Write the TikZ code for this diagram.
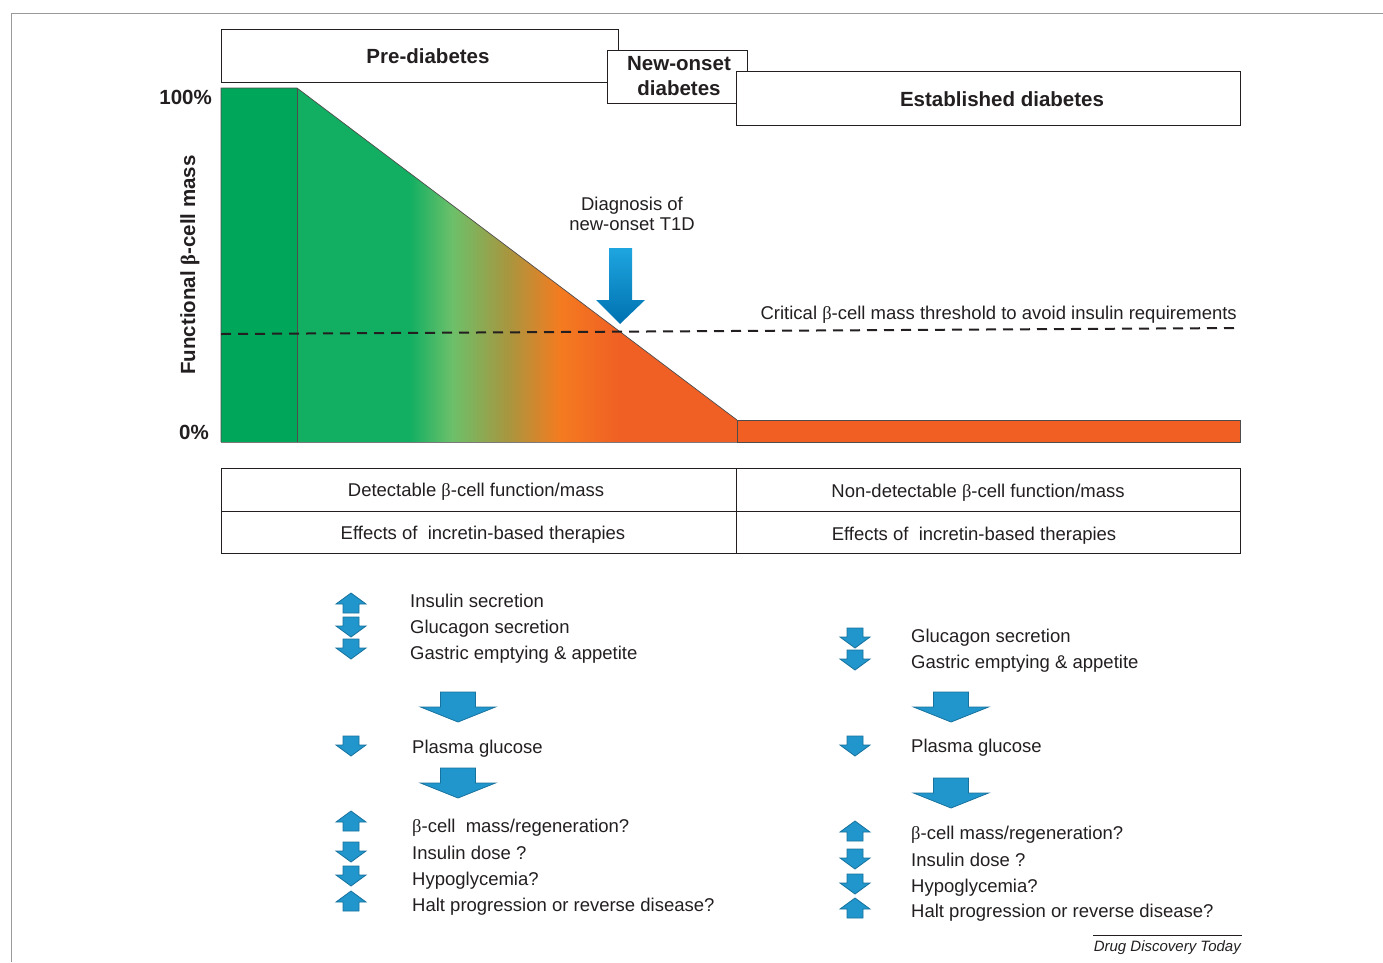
\documentclass[tikz,border=0pt]{standalone}
\usepackage{fontspec}
\setmainfont{Liberation Sans}
\newfontfamily\betafont{Liberation Serif}
\newcommand{\bcell}{{\betafont β}}
\usetikzlibrary{calc}

\definecolor{ink}{HTML}{231F20}
\definecolor{framegray}{HTML}{9A9A9A}
\definecolor{darkgreen}{HTML}{00A659}
\definecolor{gA}{HTML}{12AF63}
\definecolor{gB}{HTML}{6CC06A}
\definecolor{olive}{HTML}{A8963F}
\definecolor{orA}{HTML}{F47B20}
\definecolor{orB}{HTML}{F05F24}
\definecolor{orbar}{HTML}{F15F22}
\definecolor{arrfill}{HTML}{2196CC}
\definecolor{arrline}{HTML}{17729E}
\definecolor{diagtop}{HTML}{1EA5E0}
\definecolor{diagbot}{HTML}{0072B0}

\pgfdeclarehorizontalshading{betamass}{100bp}{color(0bp)=(gA); color(25bp)=(gA); color(37bp)=(gA); color(41.5bp)=(gB); color(47.5bp)=(olive); color(53bp)=(orA); color(59.5bp)=(orB); color(75bp)=(orB); color(100bp)=(orB)}

\tikzset{
  txt/.style={font=\fontsize{18.5}{20}\selectfont, text=ink, inner sep=0pt},
  hdr/.style={font=\bfseries\fontsize{20.5}{25}\selectfont, text=ink, inner sep=0pt},
  hdrbox/.style={draw=ink, line width=1pt, fill=white},
  blockarr/.style={fill=arrfill, draw=arrline, line width=0.8pt, line join=miter},
  uparr/.pic={\path[blockarr] (0,-10) -- (15,1) -- (8,1) -- (8,10) -- (-8,10) -- (-8,1) -- (-15,1) -- cycle;},
  downarr/.pic={\path[blockarr] (0,10) -- (15,-1) -- (8,-1) -- (8,-10) -- (-8,-10) -- (-8,-1) -- (-15,-1) -- cycle;},
  bigdown/.pic={\path[blockarr] (0,15) -- (37.5,0) -- (17.5,0) -- (17.5,-15) -- (-17.5,-15) -- (-17.5,0) -- (-37.5,0) -- cycle;}
}

\begin{document}
\begin{tikzpicture}[x=1pt,y=-1pt]
\useasboundingbox (0,0) rectangle (1383,962);
\draw[framegray, line width=1pt] (11,962) -- (11,13) -- (1383,13);

% stage headers
\draw[hdrbox] (221,29) rectangle (618,82);
\draw[hdrbox] (607,50) rectangle (747,103);
\draw[hdrbox] (736,71) rectangle (1240,125);
\node[hdr, anchor=base] (pre) at (428,63) {Pre-diabetes};
\node[hdr, align=center] (newon) at (679,76) {New-onset\\diabetes};
\node[hdr, anchor=base] (estab) at (1002,106) {Established diabetes};

% beta-cell mass curve
\coordinate (top) at (297,88);
\coordinate (knee) at (737,420);
\coordinate (foot) at (766,442);
\fill[darkgreen] (221,88) rectangle (297,442);
\shade[shading=betamass] (top) -- (foot) -- (297,442) -- cycle;
\draw[ink!80, line width=0.7pt] (221,442) -- (221,88) -- (top) -- (knee);
\draw[ink!80, line width=0.7pt] (297,88) -- (297,442);
\draw[ink!60, line width=1pt] (221,442) -- (foot);
\filldraw[fill=orbar, draw=ink!80, line width=0.7pt] (knee) rectangle (1240,442);

% threshold
\coordinate (thrL) at (221,334);
\coordinate (thrR) at (1240,328);
\draw[ink, line width=2pt, dash pattern=on 10pt off 7pt] (thrL) -- (thrR);
\node[txt, anchor=base east] (crit) at (1237,319) {Critical \bcell-cell mass threshold to avoid insulin requirements};

% diagnosis arrow
\node[txt, align=center] (diag) at (632,214) {Diagnosis of\\new-onset T1D};
\shade[top color=diagtop, bottom color=diagbot] (609,248) -- (632,248) -- (632,300) -- (645,300) -- (620,324) -- (596,300) -- (609,300) -- cycle;

% axis
\node[hdr, rotate=90] (ylab) at (190,265) {Functional \bcell-cell mass};
\node[hdr, anchor=base east] (hundred) at (212,104) {100\%};
\node[hdr, anchor=base east] (zero) at (209,439) {0\%};

% table
\draw[ink, line width=1pt] (221,468) rectangle (1240,553);
\draw[ink, line width=1pt] (221,511) -- (1240,511);
\draw[ink, line width=1pt] (736,468) -- (736,553);
\node[txt, anchor=base] (detL) at (476,496) {Detectable \bcell-cell function/mass};
\node[txt, anchor=base] (effL) at (483,539) {Effects of\ \ incretin-based therapies};
\node[txt, anchor=base] (detR) at (978,497) {Non-detectable \bcell-cell function/mass};
\node[txt, anchor=base] (effR) at (974,540) {Effects of\ \ incretin-based therapies};

% left column
\pic at (351,603) {uparr};
\pic at (351,627) {downarr};
\pic at (351,649) {downarr};
\node[txt, anchor=base west] (insL) at (410,607) {Insulin secretion};
\node[txt, anchor=base west] (glucL) at (410,633) {Glucagon secretion};
\node[txt, anchor=base west] (gastL) at (410,659) {Gastric emptying \& appetite};
\pic at (458,707) {bigdown};
\pic at (351,746) {downarr};
\node[txt, anchor=base west] (plasL) at (412,753) {Plasma glucose};
\pic at (458,783) {bigdown};
\pic at (351,821) {uparr};
\pic at (351,852) {downarr};
\pic at (351,876) {downarr};
\pic at (351,901) {uparr};
\node[txt, anchor=base west] (massL) at (412,832) {\bcell-cell\ \ mass/regeneration?};
\node[txt, anchor=base west] (doseL) at (412,859) {Insulin dose ?};
\node[txt, anchor=base west] (hypoL) at (412,885) {Hypoglycemia?};
\node[txt, anchor=base west] (haltL) at (412,911) {Halt progression or reverse disease?};

% right column
\pic at (855,638) {downarr};
\pic at (855,660) {downarr};
\node[txt, anchor=base west] (glucR) at (911,642) {Glucagon secretion};
\node[txt, anchor=base west] (gastR) at (911,668) {Gastric emptying \& appetite};
\pic at (951,707) {bigdown};
\pic at (855,746) {downarr};
\node[txt, anchor=base west] (plasR) at (911,752) {Plasma glucose};
\pic at (951,793) {bigdown};
\pic at (855,831) {uparr};
\pic at (855,859) {downarr};
\pic at (855,884) {downarr};
\pic at (855,908) {uparr};
\node[txt, anchor=base west] (massR) at (911,839) {\bcell-cell mass/regeneration?};
\node[txt, anchor=base west] (doseR) at (911,866) {Insulin dose ?};
\node[txt, anchor=base west] (hypoR) at (911,892) {Hypoglycemia?};
\node[txt, anchor=base west] (haltR) at (911,917) {Halt progression or reverse disease?};

% source
\coordinate (srcL) at (1093,935);
\coordinate (srcR) at (1242,935);
\draw[ink, line width=0.8pt] (srcL) -- (srcR);
\node[txt, font=\itshape\fontsize{15}{17}\selectfont, anchor=base east] (src) at (1241,951) {Drug Discovery Today};
\end{tikzpicture}
\end{document}
